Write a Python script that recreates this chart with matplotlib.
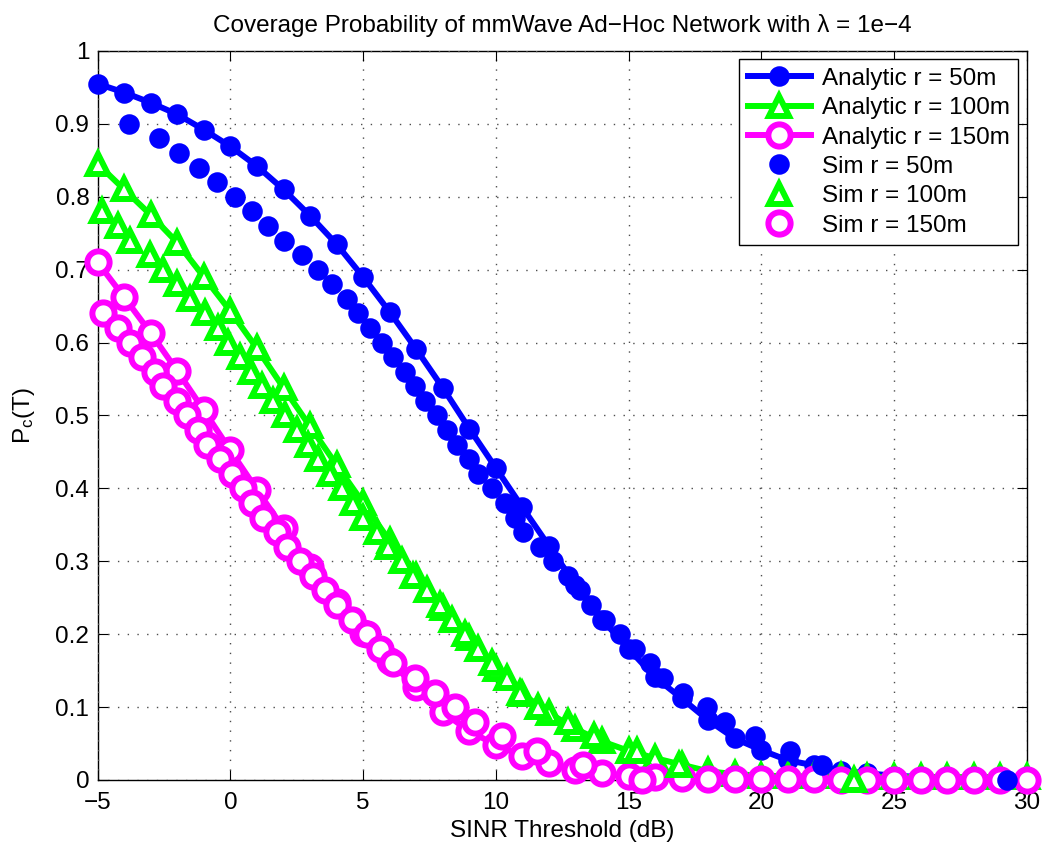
import matplotlib
matplotlib.use("Agg")
import matplotlib.pyplot as plt
import numpy as np

plt.rcParams["font.family"] = ["Liberation Sans", "DejaVu Sans"]
plt.rcParams["mathtext.default"] = "regular"

# SINR thresholds (dB) of the analytic curves
snr_db = np.arange(-5, 31)

analytic_50 = [0.955, 0.943, 0.929, 0.913, 0.892, 0.869, 0.842, 0.810, 0.774, 0.735,
               0.690, 0.642, 0.591, 0.538, 0.482, 0.428, 0.374, 0.321, 0.268, 0.220,
               0.180, 0.141, 0.112, 0.082, 0.057, 0.041, 0.027, 0.020, 0.013, 0.009,
               0.006, 0.004, 0.003, 0.002, 0.001, 0.001]
analytic_100 = [0.845, 0.810, 0.775, 0.737, 0.690, 0.643, 0.592, 0.538, 0.485, 0.432,
                0.380, 0.328, 0.280, 0.236, 0.195, 0.152, 0.118, 0.092, 0.070, 0.053,
                0.040, 0.030, 0.021, 0.012, 0.008, 0.006, 0.005, 0.005, 0.005, 0.004,
                0.004, 0.004, 0.004, 0.004, 0.004, 0.004]
analytic_150 = [0.710, 0.662, 0.613, 0.561, 0.507, 0.452, 0.398, 0.345, 0.292, 0.244,
                0.202, 0.163, 0.127, 0.093, 0.067, 0.048, 0.033, 0.023, 0.014, 0.009,
                0.006, 0.004, 0.003, 0.002, 0.001, 0.001, 0.001, 0.001, 0.000, 0.000,
                0.000, 0.000, 0.000, 0.000, 0.000, 0.000]

# simulated points (sorted samples: threshold in dB, coverage)
sim_50_x = [-3.81, -2.68, -1.93, -1.17, -0.52, 0.17, 0.80, 1.43, 2.02, 2.69,
            3.31, 3.82, 4.38, 4.82, 5.26, 5.70, 6.14, 6.58, 6.95, 7.33,
            7.77, 8.15, 8.53, 8.97, 9.34, 9.85, 10.35, 10.72, 11.04, 11.66,
            12.16, 12.73, 13.17, 13.60, 14.10, 14.68, 15.25, 15.80, 16.30, 17.05,
            17.95, 18.62, 19.77, 21.10, 22.30, 29.25]
sim_50_y = [0.90, 0.88, 0.86, 0.84, 0.82, 0.80, 0.78, 0.76, 0.74, 0.72,
            0.70, 0.68, 0.66, 0.64, 0.62, 0.60, 0.58, 0.56, 0.54, 0.52,
            0.50, 0.48, 0.46, 0.44, 0.42, 0.40, 0.38, 0.36, 0.34, 0.32,
            0.30, 0.28, 0.26, 0.24, 0.22, 0.20, 0.18, 0.16, 0.14, 0.12,
            0.10, 0.08, 0.06, 0.04, 0.02, 0.00]

sim_100_x = [-4.85, -4.22, -3.78, -3.03, -2.53, -2.02, -1.52, -0.96, -0.46, -0.08,
             0.36, 0.78, 1.18, 1.62, 2.06, 2.50, 2.94, 3.31, 3.75, 4.19,
             4.63, 5.01, 5.51, 5.95, 6.45, 6.89, 7.40, 7.90, 8.34, 8.84,
             9.34, 9.85, 10.41, 10.91, 11.60, 12.70, 13.70, 15.30, 16.90, 23.50]
sim_100_y = [0.78, 0.76, 0.74, 0.72, 0.70, 0.68, 0.66, 0.64, 0.62, 0.60,
             0.58, 0.56, 0.54, 0.52, 0.50, 0.48, 0.46, 0.44, 0.42, 0.40,
             0.38, 0.36, 0.34, 0.32, 0.30, 0.28, 0.26, 0.24, 0.22, 0.20,
             0.18, 0.16, 0.14, 0.12, 0.10, 0.08, 0.06, 0.04, 0.02, 0.00]

sim_150_x = [-4.79, -4.22, -3.78, -3.34, -2.84, -2.53, -2.02, -1.65, -1.21, -0.89,
             -0.39, 0.05, 0.49, 0.80, 1.24, 1.74, 2.12, 2.62, 3.12, 3.56,
             4.00, 4.57, 5.14, 5.64, 6.14, 6.96, 7.71, 8.46, 9.22, 10.22,
             11.54, 13.30, 15.50]
sim_150_y = [0.64, 0.62, 0.60, 0.58, 0.56, 0.54, 0.52, 0.50, 0.48, 0.46,
             0.44, 0.42, 0.40, 0.38, 0.36, 0.34, 0.32, 0.30, 0.28, 0.26,
             0.24, 0.22, 0.20, 0.18, 0.16, 0.14, 0.12, 0.10, 0.08, 0.06,
             0.04, 0.02, 0.00]

BLUE = (0, 0, 1)
GREEN = (0, 1, 0)
MAGENTA = (1, 0, 1)
LW = 4.3
FS = 17.5
MS_DOT, MS_TRI, MS_CIRC = 10.5, 14.5, 16

fig = plt.figure(figsize=(10.45, 8.48), dpi=100)
ax = fig.add_axes([0.0935, 0.0802, 0.889, 0.8597])

ax.plot(snr_db, analytic_50, "-o", color=BLUE, lw=LW, ms=MS_DOT, mew=LW,
        mfc=BLUE, mec=BLUE, label="Analytic r = 50m", clip_on=False)
ax.plot(snr_db, analytic_100, "-^", color=GREEN, lw=LW, ms=MS_TRI, mew=LW,
        mfc="white", mec=GREEN, label="Analytic r = 100m", clip_on=False)
ax.plot(snr_db, analytic_150, "-o", color=MAGENTA, lw=LW, ms=MS_CIRC, mew=LW,
        mfc="white", mec=MAGENTA, label="Analytic r = 150m", clip_on=False)
ax.plot(sim_50_x, sim_50_y, "o", ls="none", ms=MS_DOT, mew=LW,
        mfc=BLUE, mec=BLUE, label="Sim r = 50m", clip_on=False)
ax.plot(sim_100_x, sim_100_y, "^", ls="none", ms=MS_TRI, mew=LW,
        mfc="white", mec=GREEN, label="Sim r = 100m", clip_on=False)
ax.plot(sim_150_x, sim_150_y, "o", ls="none", ms=MS_CIRC, mew=LW,
        mfc="white", mec=MAGENTA, label="Sim r = 150m", clip_on=False)

ax.set_xlim(-5, 30)
ax.set_ylim(0, 1)
ax.set_xticks(np.arange(-5, 31, 5))
ax.set_yticks(np.arange(0, 1.01, 0.1))
ax.set_yticklabels(["0", "0.1", "0.2", "0.3", "0.4", "0.5", "0.6", "0.7", "0.8", "0.9", "1"])
ax.tick_params(direction="in", length=7, width=0.8, top=True, right=True,
               labelsize=FS)
ax.tick_params(axis="x", pad=9)
ax.tick_params(axis="y", pad=6)
for sp in ax.spines.values():
    sp.set_linewidth(1.0)
    sp.set_zorder(1)
ax.grid(True, color="0.3", linestyle=(0, (1, 6)), linewidth=1.0)

ax.set_title("Coverage Probability of mmWave Ad\u2212Hoc Network with \u03bb = 1e\u22124",
             fontsize=FS, pad=14)
ax.set_xlabel("SINR Threshold (dB)", fontsize=FS, labelpad=4)
ax.set_ylabel("P$_{c}$(T)", fontsize=FS, labelpad=13)

leg = ax.legend(loc="upper right", fontsize=FS, handlelength=2.6, handletextpad=0.45,
                labelspacing=0.3, borderpad=0.35, borderaxespad=0.35,
                fancybox=False, framealpha=1, edgecolor="black")
leg.get_frame().set_linewidth(1.0)
leg.set_zorder(5)

fig.savefig("out.png", dpi=100)
